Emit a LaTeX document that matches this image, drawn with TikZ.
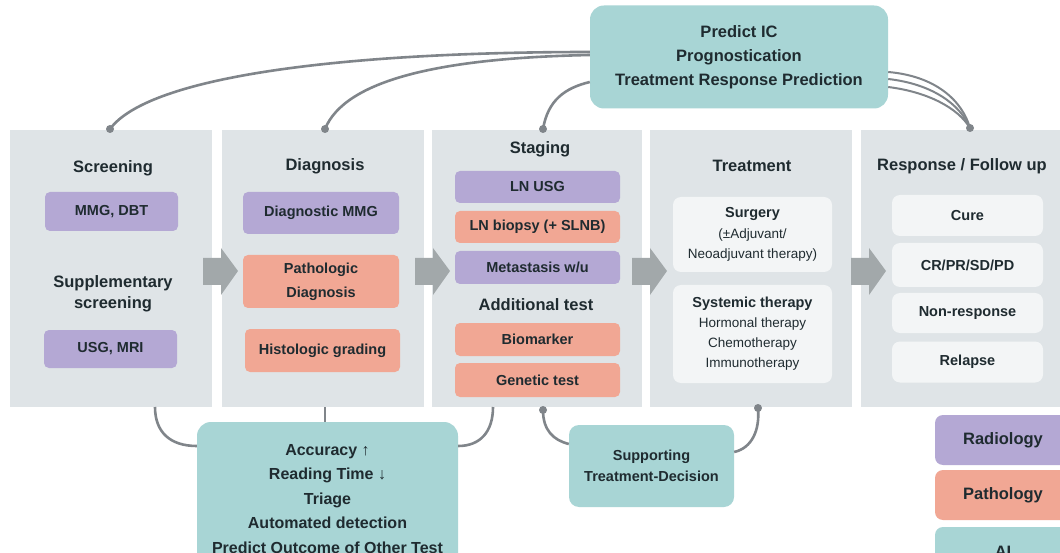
\documentclass[tikz,border=0pt]{standalone}
\usepackage{fontspec}
\setmainfont{Liberation Sans}
\usetikzlibrary{calc}
\definecolor{panelc}{HTML}{DFE4E7}
\definecolor{purplec}{HTML}{B4A8D4}
\definecolor{salmonc}{HTML}{F1A794}
\definecolor{tealc}{HTML}{A8D5D5}
\definecolor{whitec}{HTML}{F3F5F6}
\definecolor{arrowc}{HTML}{A2A8AA}
\definecolor{linec}{HTML}{80858A}
\definecolor{textc}{HTML}{1F2B30}
\tikzset{
  panel/.style={fill=panelc, inner sep=0pt},
  ttl/.style={font=\bfseries\fontsize{16.5}{21}\selectfont, text=textc, align=center, inner sep=0pt},
  box/.style={rounded corners=5pt, inner sep=0pt, font=\bfseries\fontsize{14.5}{24}\selectfont, text=textc, align=center},
  rad/.style={box, fill=purplec},
  pat/.style={box, fill=salmonc},
  wbox/.style={box, fill=whitec, rounded corners=8pt},
  aibox/.style={fill=tealc, rounded corners=14pt, inner sep=0pt, text=textc, align=center},
  conn/.style={draw=linec, line width=2.6pt},
  garrow/.style={fill=arrowc},
}
\newcommand{\grayarrow}[1]{%
  \fill[garrow] (#1,258) -- (#1+18,258) -- (#1+18,248) -- (#1+35,271) -- (#1+18,295) -- (#1+18,285) -- (#1,285) -- cycle;}
\begin{document}
\begin{tikzpicture}[x=1pt,y=-1pt]
\useasboundingbox (0,0) rectangle (1060,553);
\clip (0,0) rectangle (1060,553);
\fill[white] (0,0) rectangle (1060,553);

% panels
\node[panel, minimum width=202pt, minimum height=277pt] (scr) at (111,268.5) {};
\node[panel, minimum width=202pt, minimum height=277pt] (dia) at (323,268.5) {};
\node[panel, minimum width=210pt, minimum height=277pt] (stg) at (537,268.5) {};
\node[panel, minimum width=202pt, minimum height=277pt] (trt) at (751,268.5) {};
\node[panel, minimum width=211pt, minimum height=277pt] (rsp) at (966.5,268.5) {};

% gray arrows between panels
\grayarrow{203}
\grayarrow{415}
\grayarrow{632}
\grayarrow{851}

% Screening
\node[ttl] (scrT) at (113,168) {Screening};
\node[rad, minimum width=133pt, minimum height=39pt] (mmg) at (111.5,211.5) {MMG, DBT};
\node[ttl] (supp) at (113,294) {Supplementary\\screening};
\node[rad, minimum width=133pt, minimum height=38pt] (usg) at (110.5,349) {USG, MRI};

% Diagnosis
\node[ttl] (diaT) at (325,166) {Diagnosis};
\node[rad, minimum width=156pt, minimum height=42pt] (dmmg) at (321,213) {Diagnostic MMG};
\node[pat, minimum width=156pt, minimum height=53pt] (pdx) at (321,281.5) {Pathologic\\Diagnosis};
\node[pat, minimum width=155pt, minimum height=43pt] (hist) at (322.5,350.5) {Histologic grading};

% Staging
\node[ttl] (stgT) at (540,149) {Staging};
\node[rad, minimum width=165pt, minimum height=32pt] (lnusg) at (537.5,187) {LN USG};
\node[pat, minimum width=165pt, minimum height=32pt] (lnbx) at (537.5,227) {LN biopsy (+ SLNB)};
\node[rad, minimum width=165pt, minimum height=33pt] (meta) at (537.5,267.5) {Metastasis w/u};
\node[ttl] (addT) at (536,305) {Additional test};
\node[pat, minimum width=165pt, minimum height=33pt] (bio) at (537.5,339.5) {Biomarker};
\node[pat, minimum width=165pt, minimum height=34pt] (gen) at (537.5,380) {Genetic test};

% Treatment
\node[ttl] (trtT) at (752,166) {Treatment};
\node[wbox, minimum width=159pt, minimum height=75pt, font=\fontsize{13.5}{20.5}\selectfont] (surg) at (752.5,234.5)
  {{\bfseries\fontsize{14.5}{20.5}\selectfont Surgery}\\(±Adjuvant/\\Neoadjuvant therapy)};
\node[wbox, minimum width=159pt, minimum height=98pt, font=\fontsize{13.5}{20}\selectfont] (sys) at (752.5,334)
  {{\bfseries\fontsize{14.5}{20}\selectfont Systemic therapy}\\Hormonal therapy\\Chemotherapy\\Immunotherapy};

% Response
\node[ttl] (rspT) at (962,166) {Response / Follow up};
\node[wbox, minimum width=151pt, minimum height=41pt] (cure) at (967.5,215.5) {Cure};
\node[wbox, minimum width=151pt, minimum height=44pt] (crpr) at (967.5,265) {CR/PR/SD/PD};
\node[wbox, minimum width=151pt, minimum height=40pt] (nonr) at (967.5,313) {Non-response};
\node[wbox, minimum width=151pt, minimum height=41pt] (rel) at (967.5,362) {Relapse};

% AI boxes
\node[aibox, minimum width=298pt, minimum height=103pt, font=\bfseries\fontsize{16.5}{24}\selectfont] (ai1) at (739,57)
  {Predict IC\\Prognostication\\Treatment Response Prediction};
\node[aibox, minimum width=261pt, minimum height=154pt, font=\bfseries\fontsize{16}{24.5}\selectfont] (ai2) at (327.5,499)
  {Accuracy ↑\\Reading Time ↓\\Triage\\Automated detection\\Predict Outcome of Other Test};
\node[aibox, rounded corners=10pt, minimum width=165pt, minimum height=82pt, font=\bfseries\fontsize{14.5}{21}\selectfont] (ai3) at (651.5,466)
  {Supporting\\Treatment-Decision};

% legend
\node[box, fill=purplec, rounded corners=8pt, minimum width=136pt, minimum height=50pt, font=\bfseries\fontsize{16.5}{20}\selectfont] (lrad) at (1003,440) {Radiology};
\node[box, fill=salmonc, rounded corners=8pt, minimum width=136pt, minimum height=50pt, font=\bfseries\fontsize{16.5}{20}\selectfont] (lpat) at (1003,495) {Pathology};
\node[box, fill=tealc, rounded corners=8pt, minimum width=136pt, minimum height=50pt, font=\bfseries\fontsize{16.5}{20}\selectfont] (lai) at (1003,552) {AI};

% connector end points
\coordinate (d1) at (110,129);
\coordinate (d2) at (325,129);
\coordinate (d3) at (543,129);
\coordinate (d4) at (970,128);
\coordinate (b1) at (155,407);
\coordinate (b2) at (325,407);
\coordinate (b3) at (493,407);
\coordinate (s1) at (543,410);
\coordinate (s2) at (758,408);

% top connectors
\draw[conn] (d1) .. controls (150,75) and (350,52) .. ($(ai1.west)+(0,-5)$);
\draw[conn] (d2) .. controls (345,80) and (440,58) .. ($(ai1.west)+(0,-2)$);
\draw[conn] (d3) .. controls (548,100) and (565,88) .. ($(ai1.west)+(0,25)$);
\draw[conn, line width=2pt] ($(ai1.east)+(0,15)$) .. controls (935,76) and (962,100) .. (d4);
\draw[conn, line width=2pt] ($(ai1.east)+(0,22)$) .. controls (932,84) and (960,104) .. (d4);
\draw[conn, line width=2pt] ($(ai1.east)+(0,30)$) .. controls (928,92) and (958,108) .. (d4);
\foreach \d in {d1,d2,d3,d4} \fill[linec] (\d) circle (4pt);

% bottom connectors
\draw[conn] (b1) .. controls (155,432) and (170,446) .. ($(ai2.west)+(0,-53)$);
\draw[conn] (b2) -- (b2 |- ai2.north);
\draw[conn] (b3) .. controls (493,432) and (480,446) .. ($(ai2.east)+(0,-53)$);
\draw[conn] (s1) .. controls (543,430) and (553,440) .. ($(ai3.west)+(0,-22)$);
\draw[conn] (s2) .. controls (760,430) and (752,448) .. ($(ai3.east)+(0,-14)$);
\foreach \d in {s1,s2} \fill[linec] (\d) circle (4pt);
\end{tikzpicture}
\end{document}
